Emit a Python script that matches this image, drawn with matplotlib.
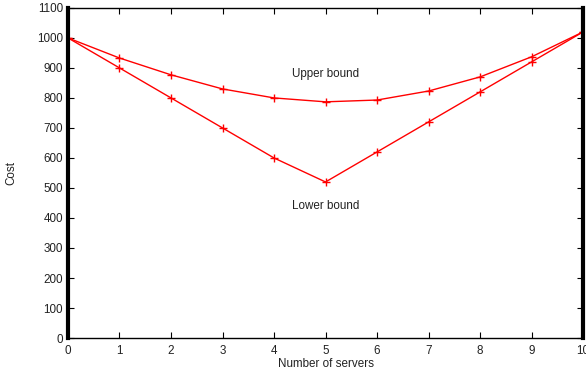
import matplotlib
matplotlib.use("Agg")
import matplotlib.pyplot as plt

# data
servers = [0, 1, 2, 3, 4, 5, 6, 7, 8, 9, 10]
upper = [1000, 933, 877, 830, 800, 787, 793, 823, 870, 937, 1020]
lower = [1000, 900, 800, 700, 600, 520, 620, 720, 820, 920, 1020]
yticks = list(range(0, 1101, 100))

plt.rcParams['font.family'] = ['Liberation Sans', 'DejaVu Sans']
plt.rcParams['font.size'] = 8.4

fig = plt.figure(figsize=(5.86, 3.76), dpi=100)
ax = fig.add_axes([0.116, 0.101, 0.879, 0.878])

ax.plot(servers, upper, color='red', lw=1, marker='+', ms=5.5, mew=1)
ax.plot(servers, lower, color='red', lw=1, marker='+', ms=5.5, mew=1)

ax.text(5, 880, 'Upper bound', ha='center', va='center', color='#222222')
ax.text(5, 440, 'Lower bound', ha='center', va='center', color='#222222')

ax.set_xlim(0, 10)
ax.set_ylim(0, 1100)
ax.set_xticks(servers)
ax.set_yticks(yticks)
ax.tick_params(direction='in', top=True, right=True, length=4, width=0.8, colors='black')
ax.tick_params(axis='x', pad=5)
ax.tick_params(labelcolor='#222222')

ax.spines['left'].set_linewidth(3)
ax.spines['right'].set_linewidth(3)
ax.spines['top'].set_linewidth(1)
ax.spines['bottom'].set_linewidth(1)

ax.set_xlabel('Number of servers', labelpad=1, color='#222222')
ax.set_ylabel('Cost', labelpad=14, color='#222222')

fig.savefig('out.png', dpi=100)
